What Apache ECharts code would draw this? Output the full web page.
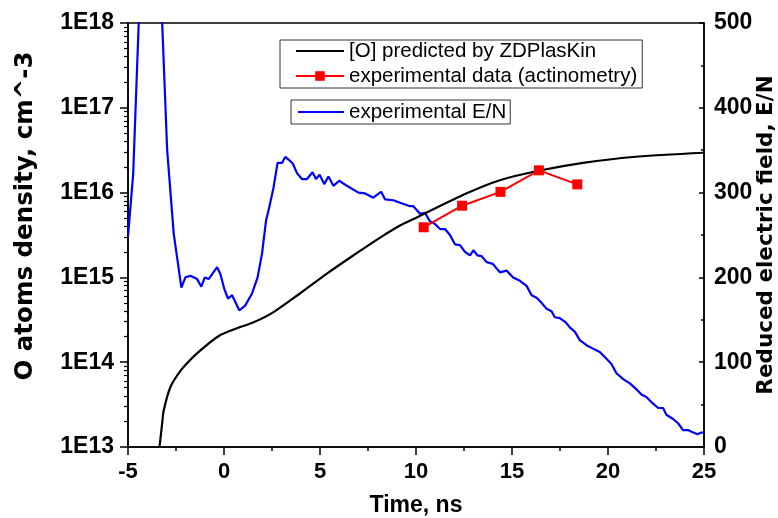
<!DOCTYPE html>
<html>
<head>
<meta charset="utf-8">
<script src="https://cdn.jsdelivr.net/npm/echarts@6/dist/echarts.min.js"></script>
<style>
html,body{margin:0;padding:0;background:#fff;}
#chart{width:778px;height:518px;}
</style>
</head>
<body>
<div id="chart"></div>
<script>
// ---- data ----
var modelTime = [-3.36,-3.22,-3.14,-2.79,-2.27,-1.75,-1.23,-0.19,0.85,1.54,2.58,3.97,5.36,6.74,8.13,9.17,10.12,12.64,14.37,16.45,18.70,21.30,25.00];
var modelDensity = [1.0e13,1.9e13,2.7e13,5.1e13,7.9e13,1.07e14,1.38e14,2.09e14,2.6e14,2.95e14,3.9e14,6.5e14,1.11e15,1.82e15,2.95e15,4.1e15,5.2e15,9.8e15,1.40e16,1.82e16,2.24e16,2.63e16,2.95e16];

var expTime = [10.4,12.4,14.4,16.4,18.4];
var expDensity = [3.9e15,7.0e15,1.02e16,1.83e16,1.25e16];

var enTime = [-5.00,-4.73,-4.45,-4.20,-3.90,-3.50,-3.22,-2.96,-2.62,-2.22,-2.01,-1.75,-1.40,-1.18,-1.00,-0.80,-0.36,-0.19,0.02,0.21,0.42,0.59,0.80,1.11,1.46,1.75,1.98,2.19,2.36,2.58,2.79,3.02,3.19,3.36,3.59,3.80,4.06,4.32,4.61,4.79,4.98,5.22,5.44,5.70,6.00,6.40,7.00,7.35,7.78,8.18,8.39,8.82,9.17,9.69,9.86,10.21,10.47,10.73,10.99,11.25,11.51,11.77,12.03,12.29,12.55,12.81,12.99,13.20,13.42,13.68,14.00,14.37,14.72,15.06,15.41,15.76,16.02,16.28,16.54,16.80,17.06,17.23,17.49,17.80,18.01,18.27,18.53,18.88,19.22,19.57,19.92,20.18,20.44,20.79,21.14,21.48,21.74,22.00,22.26,22.61,22.87,23.04,23.39,23.65,23.91,24.17,24.35,24.66,24.86,25.00];
var enValue = [248,322,495,640,700,660,500,350,252,188,200,202,198,189,200,198,212,204,186,175,179,171,161,167,181,200,228,267,283,306,335,335,342,339,334,323,316,316,324,316,321,310,319,308,314,308,300,299,294,301,292,291,288,284,284,275,276,266,263,257,257,250,239,238,230,226,232,226,225,218,216,206,208,200,196,190,179,176,170,163,160,153,152,147,141,136,126,120,116,112,104,98,87,80,75,68,62,59,53,46,46,38,33,28,20,20,18,15,17,17];

var xTicks = [-5,0,5,10,15,20,25];
var leftDecades = [13,14,15,16,17,18];
var rightTicks = [0,100,200,300,400,500];

var seriesNames = ['[O] predicted by ZDPlasKin','experimental data (actinometry)','experimental E/N'];
var xTitle = 'Time, ns';
var leftTitle = 'O atoms density, cm^-3';
var rightTitle = 'Reduced electric field, E/N';

// ---- build ----
function zip(a,b){var r=[];for(var i=0;i<a.length;i++)r.push([a[i],b[i]]);return r;}
var minorLog = [];
for (var d = leftDecades[0]; d < leftDecades[leftDecades.length-1]; d++) {
  for (var k = 2; k <= 9; k++) minorLog.push(d + Math.log10(k));
}

function tickFont(size){return {color:'#000', fontSize:size, fontWeight:'bold', fontFamily:'Liberation Sans'};}
var axisLineStyle = {color:'#000', width:1.5};
var noSymbol = {color:'transparent', borderWidth:0, opacity:0};

var chart = echarts.init(document.getElementById('chart'), null, {renderer:'canvas'});
chart.setOption({
  animation:false,
  backgroundColor:'#fff',
  grid:{left:128, right:74, top:23, bottom:71, containLabel:false, outerBoundsMode:'none',
        show:true, borderColor:'#000', borderWidth:1.5, backgroundColor:'transparent'},
  legend:[
    {data:[{name:seriesNames[0], itemStyle:noSymbol}, {name:seriesNames[1]}], orient:'vertical', left:280, top:40,
     itemWidth:48, itemHeight:12, itemGap:3, padding:[0,5,1,15],
     borderColor:'#333', borderWidth:1, backgroundColor:'#fff',
     textStyle:{color:'#000', fontSize:20.5, fontFamily:'Liberation Sans', lineHeight:22}},
    {data:[{name:seriesNames[2], itemStyle:noSymbol}], orient:'vertical', left:291, top:100,
     itemWidth:46, itemHeight:12, padding:[1,4,1,6],
     borderColor:'#333', borderWidth:1, backgroundColor:'#fff',
     textStyle:{color:'#000', fontSize:20.5, fontFamily:'Liberation Sans', lineHeight:22}}
  ],
  xAxis:{
    type:'value', min:xTicks[0], max:xTicks[xTicks.length-1], interval:5,
    name:xTitle, nameLocation:'middle', nameGap:59, nameMoveOverlap:false,
    nameTextStyle:{color:'#000', fontSize:23, fontWeight:'bold', fontFamily:'Liberation Sans', verticalAlign:'middle'},
    axisLine:{onZero:false, lineStyle:axisLineStyle},
    axisTick:{show:true, inside:false, length:8, lineStyle:{color:'#000', width:1.5}},
    minorTick:{show:true, splitNumber:2, length:4, lineStyle:{color:'#000', width:1.5}},
    axisLabel:Object.assign({margin:14}, tickFont(22)),
    splitLine:{show:false}
  },
  yAxis:[
    {type:'log', logBase:10, min:Math.pow(10,leftDecades[0]), max:Math.pow(10,leftDecades[leftDecades.length-1]), position:'left',
     name:leftTitle, nameLocation:'middle', nameGap:102, nameMoveOverlap:false,
     nameTextStyle:{color:'#000', fontSize:24.5, fontWeight:'bold', fontFamily:'DejaVu Sans', verticalAlign:'middle', padding:[0,0,0,38]},
     axisLine:{show:true, onZero:false, lineStyle:axisLineStyle},
     axisTick:{show:true, inside:false, length:8, lineStyle:{color:'#000', width:1.5}},
     axisLabel:Object.assign({margin:14, formatter:function(v){return '1E'+Math.round(Math.log10(v));}}, tickFont(23)),
     splitLine:{show:false}},
    {type:'value', min:rightTicks[0], max:rightTicks[rightTicks.length-1], interval:100, position:'right',
     name:rightTitle, nameLocation:'middle', nameGap:62, nameMoveOverlap:false,
     nameTextStyle:{color:'#000', fontSize:21.5, fontWeight:'bold', fontFamily:'DejaVu Sans', verticalAlign:'middle'},
     axisLine:{show:true, onZero:false, lineStyle:axisLineStyle},
     axisTick:{show:true, inside:true, length:5, lineStyle:{color:'#000', width:1.5}},
     minorTick:{show:true, splitNumber:2, length:3, lineStyle:{color:'#000', width:1.5}},
     axisLabel:Object.assign({margin:10}, tickFont(23)),
     splitLine:{show:false}},
    {type:'value', min:leftDecades[0], max:leftDecades[leftDecades.length-1], position:'left',
     axisLine:{show:false, onZero:false}, axisLabel:{show:false}, splitLine:{show:false},
     axisTick:{show:true, inside:false, length:4, customValues:minorLog, lineStyle:{color:'#000', width:1.2}}}
  ],
  series:[
    {name:seriesNames[0], type:'line', yAxisIndex:0, data:zip(modelTime, modelDensity),
     showSymbol:false, symbol:'none', smooth:0.3, lineStyle:{color:'#000', width:2.2}, itemStyle:{color:'#000'}, z:3},
    {name:seriesNames[1], type:'line', yAxisIndex:0, data:zip(expTime, expDensity),
     symbol:'rect', symbolSize:10, lineStyle:{color:'#ff0000', width:2}, itemStyle:{color:'#ff0000'}, z:4},
    {name:seriesNames[2], type:'line', yAxisIndex:1, data:zip(enTime, enValue),
     showSymbol:false, symbol:'none', clip:true, lineStyle:{color:'#0000ff', width:2.2}, itemStyle:{color:'#0000ff'}, z:2}
  ]
});
</script>
</body>
</html>
